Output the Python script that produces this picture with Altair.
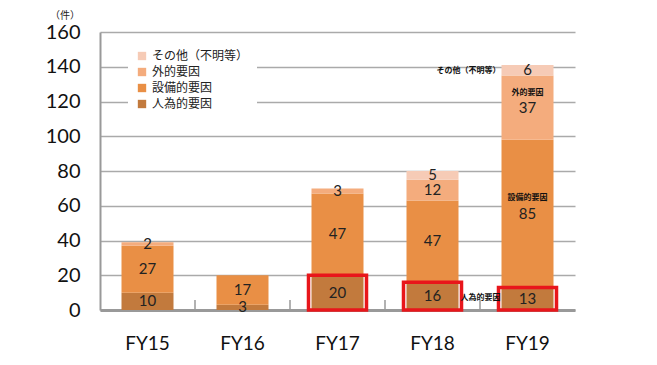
import altair as alt
import pandas as pd

years = ["FY15", "FY16", "FY17", "FY18", "FY19"]
causes = ["人為的要因", "設備的要因", "外的要因", "その他（不明等）"]
human = [10, 3, 20, 16, 13]
equip = [27, 17, 47, 47, 85]
external = [2, 0, 3, 12, 37]
other = [0, 0, 0, 5, 6]
legend_order = ["その他（不明等）", "外的要因", "設備的要因", "人為的要因"]
legend_colors = ["#F6CBB6", "#F4AC7D", "#E98F45", "#C27A3D"]
boxed_years = ["FY17", "FY18", "FY19"]
y_ticks = [0, 20, 40, 60, 80, 100, 120, 140, 160]

series = [human, equip, external, other]
rows = []
for i, y in enumerate(years):
    base = 0
    for k, c in enumerate(causes):
        v = series[k][i]
        rows.append({"year": y, "cause": c, "value": v, "order": k,
                     "mid": base + v / 2, "label": str(v) if v > 0 else ""})
        base += v
df = pd.DataFrame(rows)
df_bars = df[df["value"] > 0]
df_box = pd.DataFrame({"year": boxed_years,
                       "value": [human[years.index(y)] for y in boxed_years]})

ann = pd.DataFrame({
    "year": ["FY19", "FY19", "FY19", "FY19"],
    "y": [137.5, 125, 64.5, 7],
    "text": ["その他（不明等）", "外的要因", "設備的要因", "人為的要因"],
    "al": ["right", "center", "center", "right"],
})

x_axis = alt.Axis(title=None, labelFontSize=19, labelFont="Lato",
                  labelColor="#111", labelPadding=24, ticks=False,
                  domainColor="#999", domainWidth=3, labelAngle=0)
y_axis = alt.Axis(title=None, values=y_ticks,
                  labelOverlap=False, labelBound=False, labelFlush=False,
                  labelFontSize=20, labelFont="Lato", labelColor="#111",
                  labelPadding=20, ticks=False, domainColor="#999",
                  domainWidth=2, gridColor="#aaa", gridWidth=1.5)
xscale = alt.Scale(paddingInner=0.45, paddingOuter=0.225)
yscale = alt.Scale(domain=[0, 160], nice=False)
xs = alt.X("year:N", sort=years, scale=xscale, axis=x_axis)


def ys(field, **kw):
    return alt.Y(field, scale=yscale, axis=y_axis, **kw)


bars = alt.Chart(df_bars).mark_bar(size=52).encode(
    x=xs,
    y=ys("value:Q", stack="zero"),
    color=alt.Color("cause:N",
                    scale=alt.Scale(domain=legend_order, range=legend_colors),
                    legend=alt.Legend(title=None, orient="none", legendX=28,
                                      legendY=10, fillColor="white", padding=8,
                                      labelFont="Noto Sans CJK JP", labelFontSize=12,
                                      labelColor="#222", symbolType="square",
                                      symbolSize=70, symbolStrokeWidth=0,
                                      rowPadding=4, labelLimit=200)),
    order=alt.Order("order:Q"),
)

labels = alt.Chart(df_bars).mark_text(fontSize=15, font="Lato", color="#222").encode(
    x=xs, y=ys("mid:Q"), text="label:N",
)

ticks_l = alt.Chart(pd.DataFrame({"year": years[1:]})).mark_rule(
    color="#999", strokeWidth=1.5, xOffset=-47.5).encode(
    x=xs, y=alt.value(268), y2=alt.value(277),
)

boxes = alt.Chart(df_box).mark_bar(size=58, fillOpacity=0, stroke="#E8161B",
                                   strokeWidth=3.5).encode(
    x=xs, y=ys("value:Q"), y2=alt.value(280),
)

ann_r = alt.Chart(ann[ann["al"] == "right"]).mark_text(
    fontSize=8, font="Noto Sans CJK JP", fontWeight="bold", color="#111",
    align="right", dx=-27).encode(x=xs, y=ys("y:Q"), text="text:N")
ann_c = alt.Chart(ann[ann["al"] == "center"]).mark_text(
    fontSize=8, font="Noto Sans CJK JP", fontWeight="bold", color="#111",
    align="center").encode(x=xs, y=ys("y:Q"), text="text:N")

unit = alt.Chart(pd.DataFrame({"t": ["（件）"]})).mark_text(
    fontSize=10, font="Noto Sans CJK JP", color="#222").encode(
    x=alt.value(-35), y=alt.value(-16.5), text="t:N")

chart = alt.layer(bars, labels, ticks_l, boxes, ann_r, ann_c, unit).properties(
    width=475, height=278, background="white",
    autosize=alt.AutoSizeParams(type="none"),
    padding={"left": 92, "top": 24, "right": 60, "bottom": 45},
).configure_view(stroke=None)

chart.save("out.html", embed_options={"renderer": "svg", "actions": False})
